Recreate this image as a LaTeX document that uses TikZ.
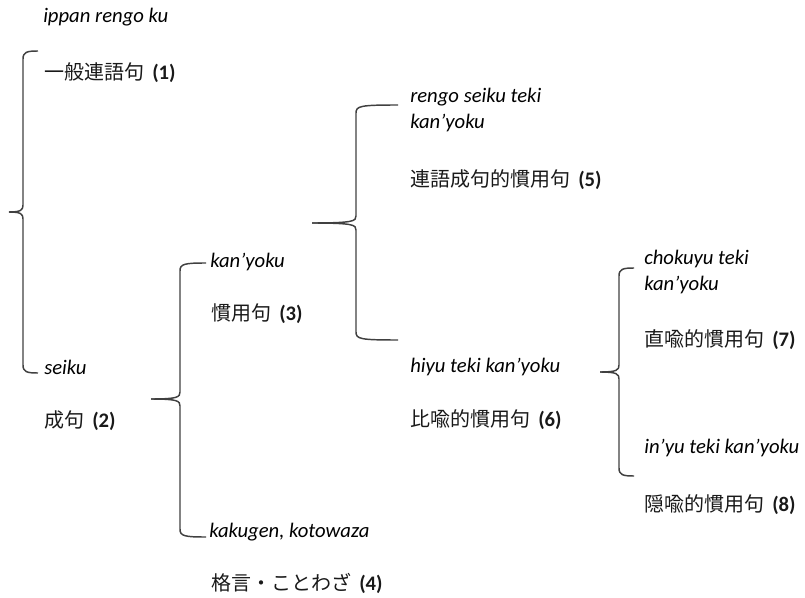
\documentclass[tikz,border=0pt]{standalone}
\usepackage{fontspec}
\setmainfont{Carlito}
\newfontfamily\cjk{Noto Sans CJK JP}
\newcommand\mybrace[6]{% xv, ytop, ybot, xend, xtip, ytip
  \draw[br] (#4,#2) .. controls ({#1+4},{#2}) and (#1,{#2+1}) .. (#1,{#2+8}) -- (#1,{#6-7})
     .. controls (#1,{#6-2}) and ({#1-2},#6) .. (#5,#6);
  \draw[br] (#5,#6) .. controls ({#1-2},#6) and (#1,{#6+2}) .. (#1,{#6+7}) -- (#1,{#3-8})
     .. controls (#1,{#3-1}) and ({#1+4},#3) .. (#4,#3);
}
\newcommand\num[1]{\hspace{0.4em}{\fontsize{15.5}{18}\selectfont\bfseries #1}}
\begin{document}
\begin{tikzpicture}[x=0.75pt,y=-0.75pt,
  br/.style={draw=black!75, line width=1.1pt},
  lat/.style={anchor=west, inner sep=0pt, font=\itshape\fontsize{15.5}{19.5}\selectfont, text=black, align=left},
  jp/.style={anchor=west, inner sep=0pt, font=\fontsize{15}{18}\selectfont, text=black!90}]
\useasboundingbox (0,0) rectangle (805,598);
% texts
\node[lat] (t1) at (43,17) {ippan rengo ku};
\node[jp] (j1) at (44,73) {{\cjk 一般連語句}\num{(1)}};
\node[lat] (t2) at (44,367) {seiku};
\node[jp] (j2) at (44,421) {{\cjk 成句}\num{(2)}};
\node[lat] (t3) at (210,262) {kan’yoku};
\node[jp] (j3) at (211,314) {{\cjk 慣用句}\num{(3)}};
\node[lat] (t4) at (209,532) {kakugen, kotowaza};
\node[jp] (j4) at (211,583) {{\cjk 格言・ことわざ}\num{(4)}};
\node[lat] (t5) at (410,110) {rengo seiku teki\\kan’yoku};
\node[jp] (j5) at (410,180) {{\cjk 連語成句的慣用句}\num{(5)}};
\node[lat] (t6) at (410,367) {hiyu teki kan’yoku};
\node[jp] (j6) at (410,420) {{\cjk 比喩的慣用句}\num{(6)}};
\node[lat] (t7) at (644,272) {chokuyu teki\\kan’yoku};
\node[jp] (j7) at (644,340) {{\cjk 直喩的慣用句}\num{(7)}};
\node[lat] (t8) at (644,448) {in’yu teki kan’yoku};
\node[jp] (j8) at (644,505) {{\cjk 隠喩的慣用句}\num{(8)}};
% braces
\mybrace{23}{51}{373}{38}{9}{212}
\mybrace{180}{263}{537}{206}{151}{399}
\mybrace{356}{105}{340}{398}{312}{223}
\mybrace{619}{268}{476}{634}{600}{372}
\end{tikzpicture}
\end{document}
